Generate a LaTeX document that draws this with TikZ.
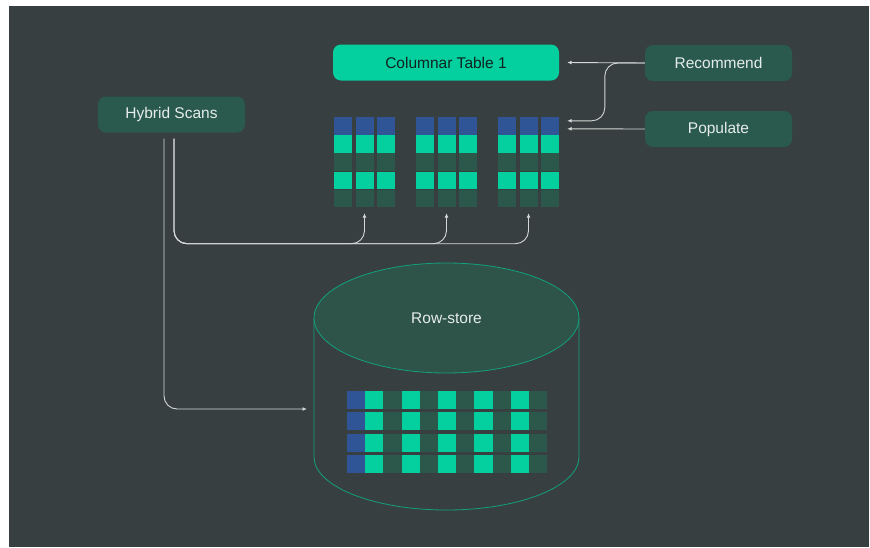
\documentclass[tikz,border=0pt]{standalone}
\usepackage{fontspec}
\setmainfont{Liberation Sans}
\usetikzlibrary{arrows.meta,shapes.geometric}
\definecolor{bgdark}{HTML}{373F41}
\definecolor{boxgreen}{HTML}{2A5A4D}
\definecolor{brightgreen}{HTML}{04CF9F}
\definecolor{cellblue}{HTML}{2F5597}
\definecolor{celldark}{HTML}{2C584C}
\definecolor{boxtext}{HTML}{E6ECEA}
\definecolor{darktext}{HTML}{10231F}
\definecolor{linegray}{HTML}{D3D9D6}
\definecolor{cylline}{HTML}{13A07C}
\definecolor{cyltop}{HTML}{2E5449}
\tikzset{
  box/.style={rounded corners=8pt, fill=boxgreen, text=boxtext, minimum width=147pt, minimum height=36pt, inner sep=0pt, font=\fontsize{15.5}{17}\selectfont},
  conn/.style={draw=linegray, line width=0.9pt, rounded corners=13pt, -{Latex[length=4.5pt,width=4pt]}}
}
\begin{document}
\begin{tikzpicture}[x=1pt,y=-1pt]
\useasboundingbox (0,0) rectangle (870,547);
\fill[white] (0,0) rectangle (870,547);
\fill[bgdark] (9,6) rectangle (869,547);

\node[box] (hybrid) at (171.5,114.5) {Hybrid Scans};
\node[box, fill=brightgreen, text=darktext, minimum width=226pt] (coltable) at (446,62.5) {Columnar Table 1};
\node[box] (recommend) at (718.5,63) {Recommend};
\node[box] (populate) at (718.5,129) {Populate};

\foreach \g/\x in {1/334,2/416,3/498} {
  \node[minimum width=61pt, minimum height=91pt, inner sep=0pt] (group\g) at (\x+30.5,162.5) {};
  \foreach \c in {0,1,2}
    \foreach \r/\col in {0/cellblue,1/brightgreen,2/celldark,3/brightgreen,4/celldark}
      \fill[\col] (\x+\c*21.5,117+\r*18.2) rectangle ++(18,17.6);
}

\draw[cylline, line width=0.8pt] (314,318) -- (314,457) arc[start angle=180, end angle=360, x radius=132.5pt, y radius=53pt] -- (579,318);
\node[ellipse, draw=cylline, line width=0.8pt, fill=cyltop, text=boxtext, minimum width=265pt, minimum height=110pt, font=\fontsize{15.5}{17}\selectfont] (rowstore) at (446.5,318) {Row-store};
\coordinate (rowin) at (307,409);

\foreach \r in {0,...,3} {
  \fill[celldark] (347,391+\r*21.3) rectangle ++(200,18);
  \fill[cellblue] (347,391+\r*21.3) rectangle ++(18.2,18);
  \foreach \c in {1,3,5,7,9}
    \fill[brightgreen] (347+\c*18.2,391+\r*21.3) rectangle ++(18.2,18);
}

\draw[conn] (recommend.west) -- ([xshift=8pt]coltable.east);
\draw[conn] (recommend.west) -- ++(-40,0) |- ([xshift=8pt,yshift=-4pt]group3.north east);
\draw[conn] (populate.west) -- ([xshift=8pt,yshift=-12pt]group3.north east);
\foreach \g in {1,2,3}
  \draw[conn] ([xshift=2.5pt,yshift=-6pt]hybrid.south) -- ++(0,105) -| ([yshift=-5pt]group\g.south);
\draw[conn] ([xshift=-7.5pt,yshift=-6pt]hybrid.south) |- (rowin);
\end{tikzpicture}
\end{document}
